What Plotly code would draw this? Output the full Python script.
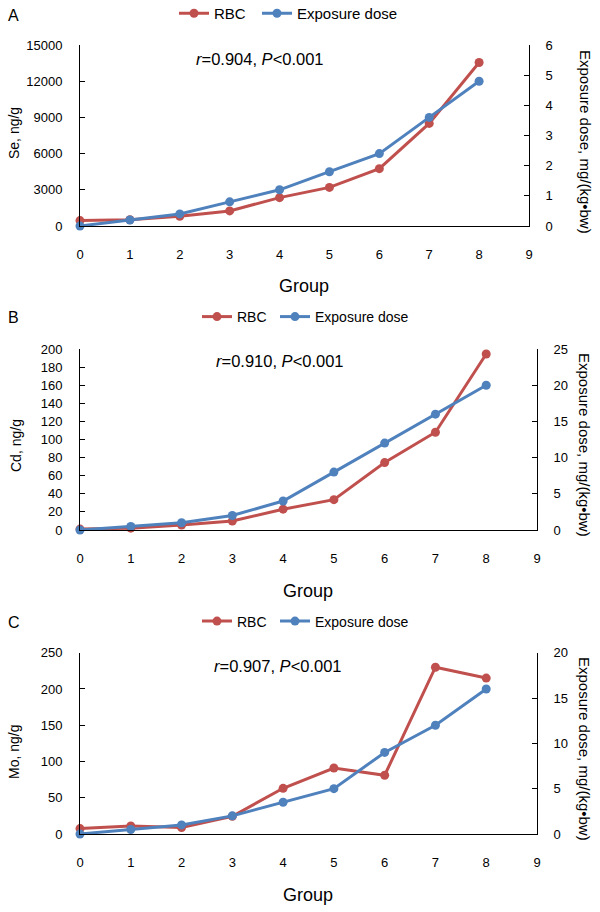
import plotly.graph_objects as go

W, H = 600, 912

groups = [0, 1, 2, 3, 4, 5, 6, 7, 8]
x_ticks = [0, 1, 2, 3, 4, 5, 6, 7, 8, 9]

se_rbc = [450, 520, 800, 1250, 2350, 3200, 4750, 8500, 13550]
se_dose = [0, 0.2, 0.4, 0.8, 1.2, 1.8, 2.4, 3.6, 4.8]
cd_rbc = [1, 2, 5.5, 10, 23, 33.5, 74.5, 108, 194.5]
cd_dose = [0, 0.5, 1, 2, 4, 8, 12, 16, 20]
mo_rbc = [7.5, 11, 9, 24.5, 63, 91, 81, 230, 215]
mo_dose = [0, 0.5, 1, 2, 3.5, 5, 9, 12, 16]

panel_letters = ["A", "B", "C"]
left_titles = ["Se, ng/g", "Cd, ng/g", "Mo, ng/g"]
right_title = "Exposure dose, mg/(kg\u2022bw)"
stats = ["<i>r</i>=0.904, <i>P</i><0.001",
         "<i>r</i>=0.910, <i>P</i><0.001",
         "<i>r</i>=0.907, <i>P</i><0.001"]
left_ranges = [(0, 15000, 3000), (0, 200, 20), (0, 250, 50)]
right_ranges = [(0, 6, 1), (0, 25, 5), (0, 20, 5)]

RED = "#C0504D"
BLUE = "#4F81BD"
FONT = "Liberation Sans, Arial, sans-serif"

# pixel layout of each panel: (left, right, top, bottom)
boxes = [(80, 529, 45, 226), (80, 537, 349, 530), (80, 537, 652.7, 834)]
# legend positions: (rbc_x, dose_x, y)
legend_pos = [(174, 257, 13.5), (197, 275, 317), (197, 275, 621.5)]
legend_font = [15, 14, 14]
letter_pos = [(13, 15), (13, 318), (14, 622)]
stat_pos = [(260, 59), (280, 361), (278, 666)]
group_pos = [(304, 286), (308, 591), (308, 895)]
left_title_pos = [(14, 133), (16, 446), (14, 752)]
right_title_pos = [(586, 142), (585, 445), (585, 749)]

def px(x):
    return x / W

def py(y):
    return 1 - y / H

fig = go.Figure()
rbc_data = [se_rbc, cd_rbc, mo_rbc]
dose_data = [se_dose, cd_dose, mo_dose]
annotations = []
layout = {}

def ann(x, y, text, size, angle=0):
    return dict(x=px(x), y=py(y), xref="paper", yref="paper", text=text,
                showarrow=False, textangle=angle, xanchor="center", yanchor="middle",
                font=dict(family=FONT, size=size, color="black"))

def legend_key(k):
    return "legend" if k == 1 else f"legend{k}"

for i in range(3):
    n = i + 1
    xa = "x" if n == 1 else f"x{n}"
    yl = f"y{2*i+1}" if i > 0 else "y"
    yr = f"y{2*i+2}"
    leg_r = legend_key(2 * i + 1)
    leg_d = legend_key(2 * i + 2)
    fig.add_trace(go.Scatter(
        x=groups, y=rbc_data[i], name="RBC", mode="lines+markers",
        line=dict(color=RED, width=3), marker=dict(size=9, color=RED),
        xaxis=xa, yaxis=yl, legend=leg_r, cliponaxis=False))
    fig.add_trace(go.Scatter(
        x=groups, y=dose_data[i], name="Exposure dose", mode="lines+markers",
        line=dict(color=BLUE, width=3), marker=dict(size=9, color=BLUE),
        xaxis=xa, yaxis=yr, legend=leg_d, cliponaxis=False))

    l, r, t, b = boxes[i]
    xkey = "xaxis" if n == 1 else f"xaxis{n}"
    ylkey = "yaxis" if i == 0 else f"yaxis{2*i+1}"
    yrkey = f"yaxis{2*i+2}"
    layout[xkey] = dict(
        domain=[px(l), px(r)], range=[0, 9], tickmode="array", tickvals=x_ticks,
        showline=True, linecolor="black", linewidth=1, ticks="", showgrid=False,
        zeroline=False, anchor=yl, ticklabelstandoff=16, automargin=False,
        tickfont=dict(family=FONT, size=13, color="black"))
    lo, hi, dt = left_ranges[i]
    layout[ylkey] = dict(
        domain=[py(b), py(t)], range=[lo, hi], dtick=dt, tick0=0, tickformat="d",
        showline=True, linecolor="black", linewidth=1, ticks="inside", ticklen=5,
        tickcolor="black", showgrid=False, zeroline=False, anchor=xa,
        ticklabelstandoff=14, automargin=False,
        tickfont=dict(family=FONT, size=13, color="black"))
    lo, hi, dt = right_ranges[i]
    layout[yrkey] = dict(
        domain=[py(b), py(t)], range=[lo, hi], dtick=dt, tick0=0,
        overlaying=yl, side="right", anchor=xa,
        showline=True, linecolor="black", linewidth=1, ticks="inside", ticklen=5,
        tickcolor="black", showgrid=False, zeroline=False,
        ticklabelstandoff=13, automargin=False,
        tickfont=dict(family=FONT, size=13, color="black"))

    rx, dx, ly = legend_pos[i]
    for key, lx in ((leg_r, rx), (leg_d, dx)):
        layout[key] = dict(
            x=px(lx), y=py(ly), xanchor="left", yanchor="middle", orientation="h",
            font=dict(family=FONT, size=legend_font[i], color="black"),
            bgcolor="rgba(0,0,0,0)", itemwidth=30, tracegroupgap=0)

    annotations.append(ann(*letter_pos[i], panel_letters[i], 16))
    annotations.append(ann(*stat_pos[i], stats[i], 16.5))
    annotations.append(ann(*group_pos[i], "Group", 18))
    annotations.append(ann(*left_title_pos[i], left_titles[i], 14, -90))
    annotations.append(ann(*right_title_pos[i], right_title, 15, 90))

fig.update_layout(
    width=W, height=H,
    margin=dict(l=0, r=0, t=0, b=0, pad=0, autoexpand=False),
    paper_bgcolor="white", plot_bgcolor="white", showlegend=True,
    annotations=annotations, **layout)

fig.write_html("out.html", config={"displayModeBar": False},
               post_script="document.body.style.margin='0px';"
                           "document.body.style.overflow='hidden';")
